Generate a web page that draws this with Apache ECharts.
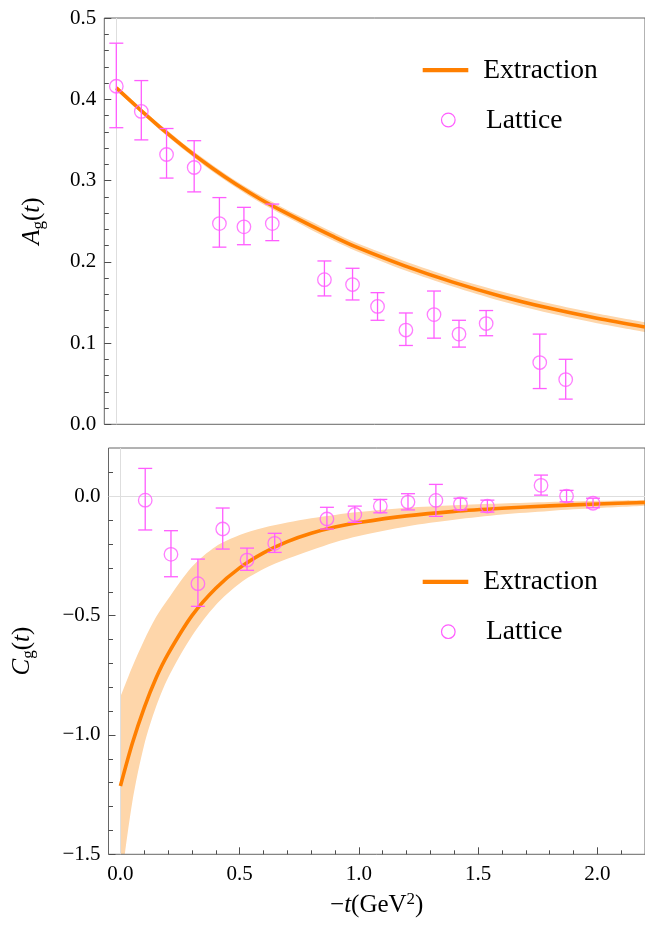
<!DOCTYPE html>
<html><head><meta charset="utf-8">
<script src="https://cdn.jsdelivr.net/npm/echarts@6/dist/echarts.min.js"></script>
<style>html,body{margin:0;padding:0;background:#fff}#c{width:645px;height:931px}</style>
</head><body><div id="c"></div>
<script>
// ---------- data ----------
// Top panel: A_g(t) extraction curve and its (thin) uncertainty band
const aCurveT  = [0, 0.1, 0.2, 0.3, 0.4, 0.5, 0.6, 0.7, 0.8, 0.9, 1.0, 1.2, 1.4, 1.6, 1.8, 2.0, 2.2];
const aCurve   = [0.414, 0.387, 0.361, 0.337, 0.315, 0.295, 0.277, 0.261, 0.246, 0.2315, 0.218, 0.195, 0.175, 0.1577, 0.143, 0.1305, 0.1197];
const aBandHi  = [0.417, 0.390, 0.3645, 0.3405, 0.319, 0.299, 0.2815, 0.2655, 0.251, 0.2365, 0.223, 0.2005, 0.1805, 0.1637, 0.149, 0.1365, 0.1257];
const aBandLo  = [0.411, 0.384, 0.3575, 0.3335, 0.311, 0.291, 0.2725, 0.2565, 0.241, 0.2265, 0.213, 0.1895, 0.1695, 0.1517, 0.137, 0.1245, 0.1137];
// Top panel: lattice points
const latA_T   = [0, 0.104, 0.209, 0.324, 0.429, 0.531, 0.649, 0.866, 0.983, 1.087, 1.205, 1.322, 1.426, 1.539, 1.762, 1.870];
const latA     = [0.416, 0.385, 0.332, 0.316, 0.247, 0.243, 0.247, 0.178, 0.172, 0.145, 0.116, 0.135, 0.111, 0.124, 0.076, 0.055];
const latA_Hi  = [0.469, 0.423, 0.364, 0.349, 0.279, 0.267, 0.271, 0.201, 0.192, 0.162, 0.137, 0.164, 0.128, 0.140, 0.111, 0.080];
const latA_Lo  = [0.365, 0.350, 0.303, 0.286, 0.218, 0.221, 0.226, 0.158, 0.153, 0.128, 0.097, 0.106, 0.095, 0.109, 0.044, 0.031];
// Bottom panel: C_g(t) extraction curve and band
const cCurveT  = [0, 0.05, 0.1, 0.15, 0.2, 0.3, 0.4, 0.5, 0.6, 0.7, 0.8, 0.9, 1.0, 1.2, 1.4, 1.6, 1.8, 2.0, 2.2];
const cCurve   = [-1.214, -1.035, -0.885, -0.76, -0.66, -0.50, -0.385, -0.30, -0.237, -0.19, -0.155, -0.129, -0.110, -0.082, -0.063, -0.050, -0.040, -0.032, -0.026];
const cBandHi  = [-0.840, -0.714, -0.602, -0.505, -0.43, -0.295, -0.21, -0.162, -0.132, -0.110, -0.092, -0.078, -0.066, -0.048, -0.037, -0.030, -0.024, -0.019, -0.015];
const cBandLo  = [-1.64, -1.28, -1.04, -0.88, -0.76, -0.585, -0.455, -0.365, -0.305, -0.262, -0.226, -0.192, -0.166, -0.126, -0.098, -0.076, -0.061, -0.049, -0.039];
// Bottom panel: lattice points
const latC_T   = [0.104, 0.212, 0.325, 0.429, 0.531, 0.647, 0.866, 0.983, 1.09, 1.206, 1.323, 1.426, 1.539, 1.764, 1.871, 1.982];
const latC     = [-0.016, -0.243, -0.366, -0.137, -0.267, -0.197, -0.095, -0.076, -0.041, -0.024, -0.017, -0.032, -0.041, 0.046, 0.001, -0.029];
const latC_Hi  = [0.117, -0.144, -0.263, -0.049, -0.217, -0.155, -0.046, -0.041, -0.013, 0.011, 0.050, -0.008, -0.016, 0.089, 0.025, -0.008];
const latC_Lo  = [-0.141, -0.337, -0.461, -0.221, -0.310, -0.235, -0.137, -0.109, -0.069, -0.057, -0.084, -0.057, -0.066, 0.005, -0.023, -0.048];
// Tick values
const xMajor   = [0, 0.5, 1.0, 1.5, 2.0];
const xMinor   = [0.1, 0.2, 0.3, 0.4, 0.6, 0.7, 0.8, 0.9, 1.1, 1.2, 1.3, 1.4, 1.6, 1.7, 1.8, 1.9, 2.1];
const aMajor   = [0, 0.1, 0.2, 0.3, 0.4, 0.5];
const aMinor   = [0.02, 0.04, 0.06, 0.08, 0.12, 0.14, 0.16, 0.18, 0.22, 0.24, 0.26, 0.28, 0.32, 0.34, 0.36, 0.38, 0.42, 0.44, 0.46, 0.48];
const cMajor   = [-1.5, -1.0, -0.5, 0.0];
const cMinor   = [-1.4, -1.3, -1.2, -1.1, -0.9, -0.8, -0.7, -0.6, -0.4, -0.3, -0.2, -0.1, 0.1];
const legendNames = ['Extraction', 'Lattice'];

// ---------- styling ----------
const FONT = '"Liberation Serif","DejaVu Serif","Times New Roman",serif';
const ORANGE = '#FF7F00', BAND = '#FED6AA', MAG = '#FF5CFF', FRAME = '#666666', TICK = '#4d4d4d', GRIDC = '#dedede';
const SMOOTH = 0.3;
const fmt = v => (v < 0 ? '\u2212' : '') + Math.abs(v).toFixed(1);
const zip = (a, b) => a.map((t, i) => [t, b[i]]);
const labelStyle = { color: '#000', fontFamily: FONT, fontSize: 21 };
const nameRich = {
  i: { fontFamily: FONT, fontSize: 25, fontStyle: 'italic', color: '#000', lineHeight: 30 },
  n: { fontFamily: FONT, fontSize: 25, color: '#000', lineHeight: 30 },
  s: { fontFamily: FONT, fontSize: 17, color: '#000', lineHeight: 16, padding: [12, 0, 0, 0] },
  p: { fontFamily: FONT, fontSize: 17, color: '#000', lineHeight: 16, padding: [0, 0, 12, 0] }
};

function errRender(params, api) {
  const x = api.value(0);
  const p1 = api.coord([x, api.value(2)]);
  const p2 = api.coord([x, api.value(1)]);
  const w = 7;
  const st = { stroke: MAG, lineWidth: 1.3, fill: null };
  return { type: 'group', children: [
    { type: 'line', shape: { x1: p1[0], y1: p1[1], x2: p2[0], y2: p2[1] }, style: st },
    { type: 'line', shape: { x1: p1[0] - w, y1: p1[1], x2: p1[0] + w, y2: p1[1] }, style: st },
    { type: 'line', shape: { x1: p2[0] - w, y1: p2[1], x2: p2[0] + w, y2: p2[1] }, style: st }
  ]};
}

function panelSeries(gi, xi, yi, T, cur, hi, lo, lt, lv, llo, lhi, marks) {
  return [
    { type: 'line', name: 'bandHi' + gi, xAxisIndex: xi, yAxisIndex: yi, data: zip(T, hi),
      symbol: 'none', smooth: SMOOTH, lineStyle: { width: 0, opacity: 0 },
      areaStyle: { color: BAND, opacity: 1, origin: 'start' }, silent: true, z: -2 },
    { type: 'line', name: 'bandLo' + gi, xAxisIndex: xi, yAxisIndex: yi, data: zip(T, lo),
      symbol: 'none', smooth: SMOOTH, lineStyle: { width: 0, opacity: 0 },
      areaStyle: { color: '#ffffff', opacity: 1, origin: 'start' }, silent: true, z: -1,
      markLine: { silent: true, symbol: 'none', z: 1, label: { show: false }, animation: false,
        lineStyle: { color: GRIDC, width: 1, type: 'solid' }, data: marks } },
    { type: 'line', name: legendNames[0], xAxisIndex: xi, yAxisIndex: yi, data: zip(T, cur),
      symbol: 'none', smooth: SMOOTH, lineStyle: { color: ORANGE, width: 3.6 }, z: 3 },
    { type: 'custom', name: 'err' + gi, xAxisIndex: xi, yAxisIndex: yi,
      data: lt.map((t, i) => [t, llo[i], lhi[i]]), encode: { x: 0, y: [1, 2] }, renderItem: errRender, z: 4 },
    { type: 'scatter', name: legendNames[1], xAxisIndex: xi, yAxisIndex: yi, data: zip(lt, lv),
      symbol: 'circle', symbolSize: 13.5,
      itemStyle: { color: 'rgba(0,0,0,0)', borderColor: MAG, borderWidth: 1.3 }, z: 5 }
  ];
}

function legendGraphic(dy) {
  return [
    { type: 'rect', shape: { x: 422.7, y: 68 + dy, width: 45.6, height: 4.2 }, style: { fill: ORANGE } },
    { type: 'text', x: 483.3, y: 70.5 + dy, style: { text: legendNames[0], font: '27.5px ' + FONT, fill: '#000', verticalAlign: 'middle' } },
    { type: 'circle', shape: { cx: 448.3, cy: 120 + dy, r: 6.8 }, style: { fill: 'none', stroke: MAG, lineWidth: 1.2 } },
    { type: 'text', x: 486, y: 120.5 + dy, style: { text: legendNames[1], font: '27.5px ' + FONT, fill: '#000', verticalAlign: 'middle' } }
  ];
}

function tickAxis(kind, gi, min, max, values, len) {
  const ax = { type: 'value', gridIndex: gi, min: min, max: max,
    position: kind === 'x' ? 'bottom' : 'left',
    axisLine: { show: false, onZero: false }, splitLine: { show: false }, axisLabel: { show: false },
    axisTick: { show: true, inside: true, length: len, customValues: values, lineStyle: { color: TICK, width: 1 } } };
  return ax;
}

const chart = echarts.init(document.getElementById('c'), null, { renderer: 'canvas' });
const gridBase = { left: 104.3, width: 542.2, height: 406.3, show: true, borderColor: FRAME, borderWidth: 1, backgroundColor: 'transparent', z: 0 };
chart.setOption({
  animation: false,
  backgroundColor: '#fff',
  grid: [ Object.assign({ top: 18 }, gridBase), Object.assign({ top: 448 }, gridBase) ],
  xAxis: [
    { type: 'value', gridIndex: 0, min: -0.05, max: 2.2, show: false, axisLine: { show: false, onZero: false }, splitLine: { show: false } },
    Object.assign(tickAxis('x', 1, -0.05, 2.2, xMajor, 7), {
      axisLabel: { show: true, customValues: xMajor, formatter: fmt, margin: 10, ...labelStyle },
      name: '{n|\u2212}{i|t}{n|(GeV}{p|2}{n|)}', nameLocation: 'middle', nameGap: 36,
      nameTextStyle: { fontFamily: FONT, fontSize: 25, color: '#000', rich: nameRich } }),
    tickAxis('x', 1, -0.05, 2.2, xMinor, 4)
  ],
  yAxis: [
    Object.assign(tickAxis('y', 0, 0, 0.5, aMajor, 7), {
      axisLabel: { show: true, customValues: aMajor, formatter: fmt, margin: 8, ...labelStyle },
      name: '{i|A}{s|g}{n|(}{i|t}{n|)}', nameLocation: 'middle', nameRotate: 90, nameGap: 57,
      nameTextStyle: { fontFamily: FONT, fontSize: 25, color: '#000', rich: nameRich } }),
    Object.assign(tickAxis('y', 1, -1.5, 0.2025, cMajor, 7), {
      axisLabel: { show: true, customValues: cMajor, formatter: fmt, margin: 8, ...labelStyle },
      name: '{i|C}{s|g}{n|(}{i|t}{n|)}', nameLocation: 'middle', nameRotate: 90, nameGap: 71,
      nameTextStyle: { fontFamily: FONT, fontSize: 25, color: '#000', rich: nameRich } }),
    tickAxis('y', 0, 0, 0.5, aMinor, 4.5),
    tickAxis('y', 1, -1.5, 0.2025, cMinor, 4.5)
  ],
  series: [].concat(
    panelSeries(0, 0, 0, aCurveT, aCurve, aBandHi, aBandLo, latA_T, latA, latA_Lo, latA_Hi, [{ xAxis: 0 }]),
    panelSeries(1, 1, 1, cCurveT, cCurve, cBandHi, cBandLo, latC_T, latC, latC_Lo, latC_Hi, [{ xAxis: 0 }, { yAxis: 0 }])
  ),
  graphic: [].concat(legendGraphic(0), legendGraphic(511.7))
});
</script>
</body></html>
